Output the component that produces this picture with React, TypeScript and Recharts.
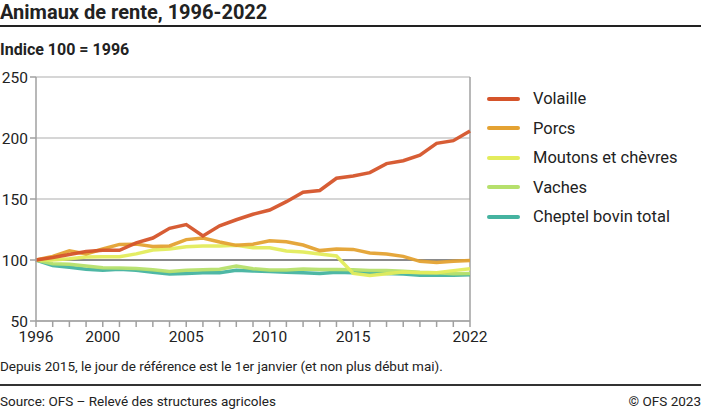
import { LineChart, Line, XAxis, YAxis, CartesianGrid, ReferenceLine, Legend } from 'recharts'

const years = [1996, 1997, 1998, 1999, 2000, 2001, 2002, 2003, 2004, 2005, 2006, 2007, 2008, 2009, 2010, 2011, 2012, 2013, 2014, 2015, 2016, 2017, 2018, 2019, 2020, 2021, 2022]

const volaille = [100, 102, 104.5, 107, 108, 108, 114, 118, 126, 129, 119.7, 128, 133, 137.5, 141, 147.8, 155.5, 157, 167, 168.9, 171.6, 179, 181.4, 186, 195.6, 197.8, 205.7]
const porcs = [100, 103, 107.6, 105, 109, 112.8, 113, 111, 111.5, 116.7, 118, 114.8, 112, 113, 115.8, 115, 112.3, 107.7, 109, 108.7, 105.7, 105, 103, 98.9, 98, 99, 99.6]
const moutons = [100, 100, 101, 102.5, 102.7, 102.7, 105, 108.2, 109, 110.9, 111.5, 111.5, 112, 110, 110, 107.4, 106.5, 105, 103.3, 89, 87.4, 88.8, 90.2, 89.6, 89.6, 91.3, 92.9]
const vaches = [100, 97, 96.5, 95, 93.7, 93.5, 93, 92, 90.5, 91.5, 92, 92.5, 95, 92.9, 91.8, 91.8, 92.6, 92.3, 92.3, 92, 91.3, 91.3, 90.7, 89.9, 89.6, 88.8, 89]
const bovins = [100, 95.5, 94, 92.5, 91.5, 92.5, 91.5, 90, 88.5, 89, 89.5, 89.5, 91.5, 91, 90.5, 90, 89.5, 89, 90, 89.5, 89.5, 89, 88.5, 87.5, 87.5, 87.5, 88]

const seriesNames = ['Volaille', 'Porcs', 'Moutons et chèvres', 'Vaches', 'Cheptel bovin total']
const seriesColors = ['#d5542a', '#e4a232', '#e3ec5c', '#b6e06c', '#45b3a0']
const seriesValues = [volaille, porcs, moutons, vaches, bovins]

const yTicks = [50, 100, 150, 200, 250]
const xLabels = [1996, 2000, 2005, 2010, 2015, 2022]

const data = years.map((year, i) => {
  const row: Record<string, number> = { year }
  seriesNames.forEach((name, s) => { row[name] = seriesValues[s][i] })
  return row
})

const font = 'Roboto, "Noto Sans", sans-serif'
const tickStyle = { fontSize: 15.5, fill: '#222', fontFamily: font }

function LegendBox() {
  return (
    <div style={{ position: 'relative', width: 214, height: 140 }}>
      {seriesNames.map((name, i) => (
        <div key={name} style={{ position: 'absolute', left: 0, top: i * 29.6, width: 214, height: 20 }}>
          <div style={{ position: 'absolute', left: 0, top: 7.5, width: 33, height: 4, borderRadius: 2, background: seriesColors[i] }} />
          <div style={{ position: 'absolute', left: 46, top: 0, fontSize: 16.5, lineHeight: '20px', color: '#222', whiteSpace: 'nowrap' }}>{name}</div>
        </div>
      ))}
    </div>
  )
}

export default function App() {
  return (
    <div style={{ position: 'absolute', left: 0, top: 0, width: 701, height: 410, background: '#fff', fontFamily: font, color: '#222', overflow: 'hidden' }}>
      <div style={{ position: 'absolute', left: 0, top: 0, fontSize: 20, fontWeight: 700, lineHeight: '24px' }}>
        Animaux de rente, 1996-2022
      </div>
      <div style={{ position: 'absolute', left: 0, top: 25, width: 701, height: 2, background: '#222' }} />
      <div style={{ position: 'absolute', left: 0, top: 40, fontSize: 16, fontWeight: 700, lineHeight: '20px' }}>
        Indice 100 = 1996
      </div>
      <div style={{ position: 'absolute', left: 0, top: 60 }}>
        <LineChart width={701} height={300} data={data} margin={{ top: 17, right: 17, bottom: 9, left: 0 }}>
          <CartesianGrid vertical={false} stroke="#c8c8c8" strokeWidth={1.5} />
          <XAxis
            dataKey="year"
            type="number"
            domain={[1996, 2022]}
            ticks={years}
            interval={0}
            tickFormatter={(v: number) => (xLabels.includes(v) ? String(v) : '')}
            tick={tickStyle}
            tickSize={6}
            tickMargin={4}
            height={30}
            stroke="#a0a0a0"
            strokeWidth={1.5}
          />
          <YAxis
            domain={[50, 250]}
            ticks={yTicks}
            tick={tickStyle}
            tickSize={6}
            tickMargin={2}
            width={36}
            stroke="#a0a0a0"
            strokeWidth={1.5}
          />
          <ReferenceLine x={2022} stroke="#a0a0a0" strokeWidth={1.5} />
          <ReferenceLine y={100} stroke="#8a8a8a" strokeWidth={2} />
          <Legend
            layout="vertical"
            align="right"
            verticalAlign="top"
            width={214}
            wrapperStyle={{ left: 487, top: 29, width: 214 }}
            content={() => <LegendBox />}
          />
          {seriesNames.map((name, i) => (
            <Line
              key={name}
              type="linear"
              dataKey={name}
              stroke={seriesColors[i]}
              strokeWidth={3.5}
              strokeOpacity={0.95}
              dot={false}
              isAnimationActive={false}
            />
          )).reverse()}
        </LineChart>
      </div>
      <div style={{ position: 'absolute', left: 0, top: 357, fontSize: 13.5, lineHeight: '18px' }}>
        Depuis 2015, le jour de référence est le 1er janvier (et non plus début mai).
      </div>
      <div style={{ position: 'absolute', left: 0, top: 384, width: 701, height: 1.5, background: '#333' }} />
      <div style={{ position: 'absolute', left: 0, top: 392, fontSize: 13.5, lineHeight: '18px' }}>
        Source: OFS – Relevé des structures agricoles
      </div>
      <div style={{ position: 'absolute', right: 0, top: 392, fontSize: 13.5, lineHeight: '18px' }}>
        © OFS 2023
      </div>
    </div>
  )
}
